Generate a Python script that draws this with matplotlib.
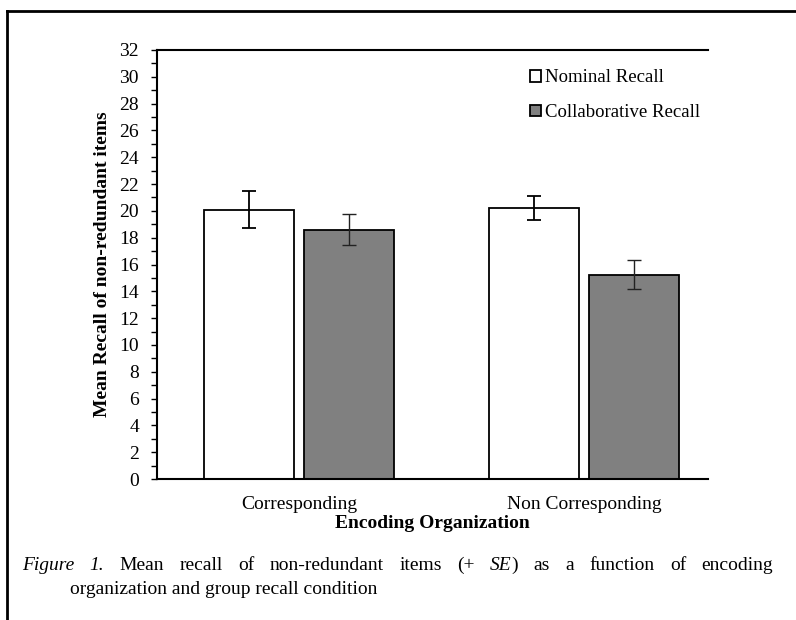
import matplotlib
matplotlib.use('Agg')
import matplotlib.pyplot as plt
from matplotlib.lines import Line2D
from matplotlib.ticker import MultipleLocator
import numpy as np

# data
categories = ['Corresponding', 'Non Corresponding']
nominal = [20.1, 20.2]
nominal_se = [1.37, 0.9]
collab = [18.6, 15.25]
collab_se = [1.13, 1.05]
series_labels = ['Nominal Recall', 'Collaborative Recall']
y_label = 'Mean Recall of non-redundant items'
x_label = 'Encoding Organization'

plt.rcParams['font.family'] = ['Liberation Serif', 'DejaVu Serif']

W, H = 796, 620
fig = plt.figure(figsize=(W / 100, H / 100), dpi=100)
ax = fig.add_axes([157 / W, 1 - 479 / H, 551 / W, 429 / H])

x = np.arange(len(categories))
bw = 0.316
off = 0.174
ax.bar(x - off, nominal, bw, color='white', edgecolor='black', linewidth=1.3,
       label=series_labels[0], zorder=2)
ax.bar(x + off, collab, bw, color='#808080', edgecolor='black', linewidth=1.3,
       label=series_labels[1], zorder=2)
ax.errorbar(x - off, nominal, yerr=nominal_se, fmt='none', ecolor='black',
            elinewidth=1.3, capsize=5, capthick=1.3, zorder=3)
ax.errorbar(x + off, collab, yerr=collab_se, fmt='none', ecolor='#222222',
            elinewidth=1.0, capsize=5, capthick=1.0, zorder=3)

ax.set_xlim(-0.498, 1.435)
ax.set_ylim(0, 32)
ax.yaxis.set_major_locator(MultipleLocator(2))
ax.yaxis.set_minor_locator(MultipleLocator(1))
ax.set_xticks(x, categories)
ax.tick_params(axis='x', length=0, pad=12, labelsize=14)
ax.tick_params(axis='y', which='both', direction='out', length=4, width=1,
               pad=9, labelsize=14)
ax.spines['right'].set_visible(False)
for s in ['left', 'bottom', 'top']:
    ax.spines[s].set_linewidth(1.5)

ax.set_ylabel(y_label, fontsize=14, fontweight='bold', labelpad=6)
ax.set_xlabel(x_label, fontsize=14, fontweight='bold', labelpad=2)

ax.legend(frameon=False, loc='upper left', bbox_to_anchor=(0.677, 0.955),
          handlelength=0.6, handleheight=0.6, handletextpad=0.2,
          labelspacing=0.95, borderpad=0, borderaxespad=0, fontsize=13.5)

# page frame around the figure
fig.add_artist(Line2D([7 / W, 7 / W], [0, 1 - 11 / H], transform=fig.transFigure,
                      color='black', lw=2))
fig.add_artist(Line2D([7 / W, 1], [1 - 11 / H, 1 - 11 / H], transform=fig.transFigure,
                      color='black', lw=2))


def justified_line(words, x0, x1, y, size):
    renderer = fig.canvas.get_renderer()
    placed = []
    widths = []
    for word in words:
        segs = []
        w = 0
        for txt, style in word:
            t = fig.text(0, y, txt, fontsize=size, style=style, va='center', ha='left')
            segs.append(t)
            w += t.get_window_extent(renderer).width
        placed.append(segs)
        widths.append(w)
    gap = (x1 - x0 - sum(widths)) / (len(words) - 1)
    cx = x0
    for segs, w in zip(placed, widths):
        sx = cx
        for t in segs:
            t.set_x(sx / W)
            sx += t.get_window_extent(renderer).width
        cx += w + gap


line1 = [[('Figure', 'italic')], [('1.', 'italic')], [('Mean', 'normal')],
         [('recall', 'normal')], [('of', 'normal')], [('non-redundant', 'normal')],
         [('items', 'normal')], [('(+', 'normal')], [('SE', 'italic'), (')', 'normal')],
         [('as', 'normal')], [('a', 'normal')], [('function', 'normal')],
         [('of', 'normal')], [('encoding', 'normal')]]
justified_line(line1, 22, 773, 1 - 565 / H, 14)
fig.text(70 / W, 1 - 589 / H, 'organization and group recall condition',
         fontsize=14, va='center', ha='left')

fig.savefig('out.png', dpi=100)
